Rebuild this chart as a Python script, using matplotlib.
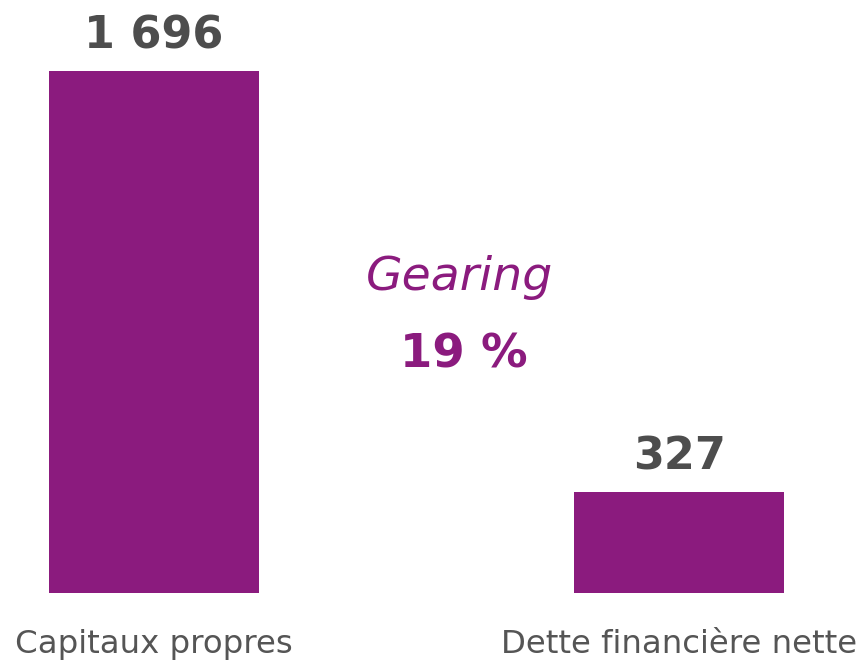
import matplotlib
matplotlib.use("Agg")
import matplotlib.pyplot as plt

categories = ["Capitaux propres", "Dette financière nette"]
values = [1696, 327]
value_labels = ["1 696", "327"]
gearing_title = "Gearing"
gearing_value = "19 %"

purple = "#8B1B7E"
gray = "#4D4D4D"
label_gray = "#555555"

plt.rcParams['font.family'] = ['DejaVu Sans']

fig = plt.figure(figsize=(8.64, 6.64), dpi=100)
ax = fig.add_axes([0, 71/664, 1, 1 - 71/664])
x = list(range(len(categories)))
ax.bar(x, values, width=0.4, color=purple)
ax.set_xlim(-154/525, (864-154)/525)
ax.set_ylim(0, 593 * 1696 / 522)
ax.axis('off')

for xi, v, lab in zip(x, values, value_labels):
    ax.annotate(lab, xy=(xi, v), xytext=(0, 16.5), textcoords='offset points',
                ha='center', va='baseline', fontsize=32, fontweight='bold', color=gray)

for xi, cat in zip(x, categories):
    ax.annotate(cat, xy=(xi, 0), xytext=(0, -43), textcoords='offset points',
                ha='center', va='baseline', fontsize=23.3, color=label_gray,
                annotation_clip=False)

fig.text(459/864, 1 - 290/664, gearing_title, ha='center', va='baseline',
         fontsize=34, fontstyle='italic', color=purple)
fig.text(464/864, 1 - 367/664, gearing_value, ha='center', va='baseline',
         fontsize=33.5, fontweight='bold', color=purple)

fig.savefig("out.png", dpi=100)
